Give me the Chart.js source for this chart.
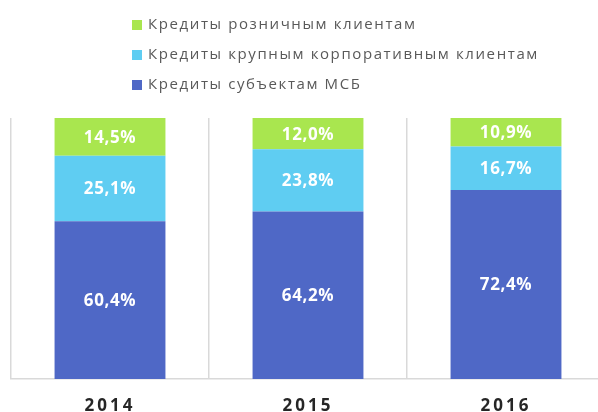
<!DOCTYPE html>
<html>
<head>
<meta charset="utf-8">
<script src="https://cdn.jsdelivr.net/npm/chart.js@4"></script>
<style>
  html, body { margin: 0; padding: 0; background: #fff; overflow: hidden; }
  #wrap { position: relative; width: 598px; height: 412px; overflow: hidden; }
  #chartBox { position: absolute; left: 0; top: 0; width: 610px; height: 412px; }
  #legend { position: absolute; left: 132px; top: 8px; font-family: "Open Sans", sans-serif; font-size: 15px; color: #595959; letter-spacing: 1.6px; }
  #legend div { height: 30px; line-height: 30px; white-space: nowrap; }
  #legend span { display: inline-block; width: 10px; height: 10px; margin-right: 6px; vertical-align: -1px; }
</style>
</head>
<body>
<div id="wrap">
  <div id="chartBox"><canvas id="chart"></canvas></div>
  <div id="legend"></div>
</div>
<script>
const years = ["2014", "2015", "2016"];
const smeLoans = [60.4, 64.2, 72.4];
const corporateLoans = [25.1, 23.8, 16.7];
const retailLoans = [14.5, 12.0, 10.9];

const names = [
  "Кредиты субъектам МСБ",
  "Кредиты крупным корпоративным клиентам",
  "Кредиты розничным клиентам"
];
const colors = ["#4f68c6", "#5fcdf2", "#a9e64f"];

// подписи значений внутри столбцов
const valueLabels = {
  id: "valueLabels",
  beforeDraw(chart) {
    chart.ctx.letterSpacing = "3px";
  },
  beforeDatasetsDraw(chart) {
    chart.ctx.letterSpacing = "0px";
  },
  afterDatasetsDraw(chart) {
    const ctx = chart.ctx;
    ctx.save();
    ctx.letterSpacing = "0.6px";
    ctx.fillStyle = "#fff";
    ctx.font = "bold 17px 'Open Sans', sans-serif";
    ctx.textAlign = "center";
    ctx.textBaseline = "middle";
    chart.data.datasets.forEach((ds, i) => {
      chart.getDatasetMeta(i).data.forEach((bar, j) => {
        const v = ds.data[j];
        const { x, y, base } = bar.getProps(["x", "y", "base"], true);
        ctx.fillText(v.toFixed(1).replace(".", ",") + "%", x, (y + base) / 2 + 1);
      });
    });
    ctx.restore();
  }
};

const chart = new Chart(document.getElementById("chart"), {
  type: "bar",
  data: {
    labels: years,
    datasets: [
      { label: names[0], data: smeLoans, backgroundColor: colors[0] },
      { label: names[1], data: corporateLoans, backgroundColor: colors[1] },
      { label: names[2], data: retailLoans, backgroundColor: colors[2] }
    ]
  },
  options: {
    responsive: true,
    maintainAspectRatio: false,
    animation: false,
    categoryPercentage: 1,
    barPercentage: 0.56,
    layout: { padding: { top: 118, left: 11, right: 5, bottom: 0 } },
    plugins: {
      legend: { display: false },
      tooltip: { enabled: false }
    },
    scales: {
      x: {
        stacked: true,
        grid: {
          // правой линии в оригинале не видно
          color: (c) => (c.index >= years.length ? "rgba(0,0,0,0)" : "#d9d9d9"),
          lineWidth: 1.5,
          drawTicks: false,
          offset: true
        },
        border: { color: "#d9d9d9", width: 1.5 },
        ticks: {
          color: "#262626",
          padding: 17,
          font: { family: "'Open Sans', sans-serif", size: 17, weight: "bold" }
        },
        afterFit(scale) { scale.height = 33; }
      },
      y: {
        stacked: true,
        display: false,
        min: 0,
        max: 100
      }
    }
  },
  plugins: [valueLabels]
});

// легенда в обратном порядке, как в оригинале
const legend = document.getElementById("legend");
chart.data.datasets.slice().reverse().forEach(ds => {
  const row = document.createElement("div");
  const box = document.createElement("span");
  box.style.background = ds.backgroundColor;
  row.appendChild(box);
  row.appendChild(document.createTextNode(ds.label));
  legend.appendChild(row);
});
</script>
</body>
</html>
